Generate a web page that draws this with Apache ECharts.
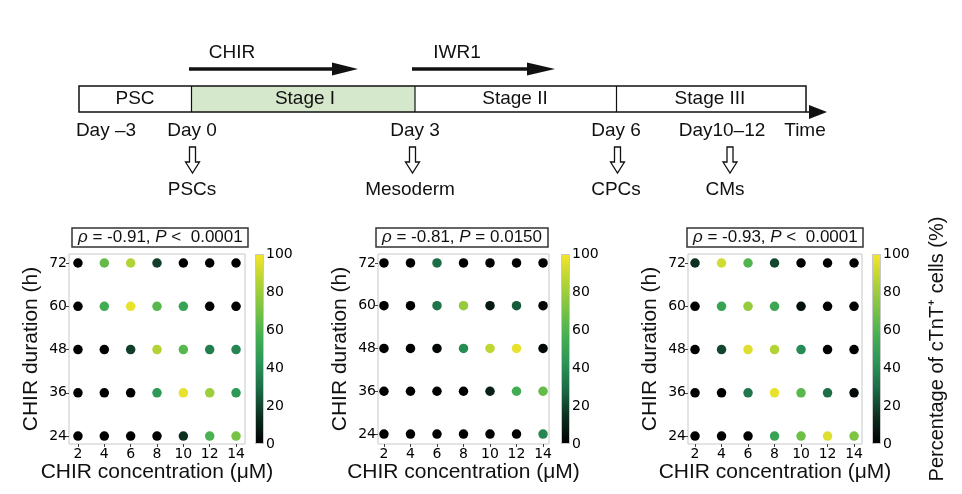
<!DOCTYPE html>
<html><head><meta charset="utf-8">
<script src="https://cdn.jsdelivr.net/npm/echarts@6/dist/echarts.min.js"></script>
<style>html,body{margin:0;padding:0;background:#fff}#c{width:962px;height:494px}</style>
</head><body><div id="c"></div>
<script>
// ---- data ----
const concentrations = [2, 4, 6, 8, 10, 12, 14];      // µM
const durations = [72, 60, 48, 36, 24];               // h (rows, top to bottom)
const pct1 = [
  [0, 65, 85, 18, 0, 0, 0],
  [0, 55, 97, 62, 50, 0, 0],
  [0, 0, 18, 85, 62, 35, 38],
  [0, 0, 0, 45, 97, 80, 45],
  [0, 0, 0, 0, 15, 58, 70]
];
const pct2 = [
  [0, 0, 30, 0, 0, 0, 0],
  [0, 0, 32, 78, 8, 25, 2],
  [0, 0, 2, 40, 88, 97, 3],
  [0, 0, 0, 0, 10, 55, 65],
  [0, 0, 0, 0, 0, 0, 38]
];
const pct3 = [
  [15, 92, 60, 20, 0, 0, 0],
  [0, 50, 78, 52, 5, 0, 0],
  [0, 20, 95, 85, 40, 0, 0],
  [0, 0, 33, 97, 62, 30, 3],
  [0, 0, 0, 50, 68, 95, 72]
];
const rhoTexts = ['-0.91', '-0.81', '-0.93'];
const pTexts = ['<\u00a0 0.0001', '= 0.0150', '<\u00a0 0.0001'];
const colorbarTicks = [0, 20, 40, 60, 80, 100];
const xTickLabels = concentrations;
const yTickLabels = [24, 36, 48, 60, 72];

// ---- styling / layout ----
const cmap = ['#000000', '#0c2e1e', '#1b6a45', '#2a9558', '#46b052', '#7cc444', '#b5d435', '#f5e52b'];
const panels = [
  {left: 69, width: 176, xMin: 1.32, xMax: 14.68, yMin: 21.8, yMax: 74.5, cbLeft: 255, titleLeft: 72, data: pct1},
  {left: 378, width: 171, xMin: 1.55, xMax: 14.45, yMin: 21.2, yMax: 74.5, cbLeft: 561, titleLeft: 376, data: pct2},
  {left: 688, width: 174, xMin: 1.47, xMax: 14.6, yMin: 21.8, yMax: 74.5, cbLeft: 872, titleLeft: 687, data: pct3}
];
const TOP = 254, H = 190;
const LBL = 'Liberation Sans', TICK = 'DejaVu Sans';

const grid = [], xAxis = [], yAxis = [], series = [], visualMap = [], title = [];
panels.forEach((p, i) => {
  grid.push({left: p.left, top: TOP, width: p.width, height: H, show: true, borderColor: '#c8c8c8', borderWidth: 1, backgroundColor: 'transparent'});
  xAxis.push({
    type: 'value', gridIndex: i, min: p.xMin, max: p.xMax,
    axisLine: {show: false}, splitLine: {show: false},
    axisTick: {show: true, customValues: xTickLabels, length: 3, lineStyle: {color: '#444'}},
    axisLabel: {customValues: xTickLabels, fontSize: 14, fontFamily: TICK, color: '#000', margin: 3},
    name: 'CHIR concentration (\u03bcM)', nameLocation: 'middle', nameGap: 15,
    nameTextStyle: {fontSize: 21, fontFamily: LBL, color: '#111'}
  });
  yAxis.push({
    type: 'value', gridIndex: i, min: p.yMin, max: p.yMax,
    axisLine: {show: false}, splitLine: {show: false},
    axisTick: {show: true, customValues: yTickLabels, length: 3, lineStyle: {color: '#444'}},
    axisLabel: {customValues: yTickLabels, fontSize: 14, fontFamily: TICK, color: '#000', margin: 2},
    name: 'CHIR duration (h)', nameLocation: 'middle', nameGap: 27,
    nameTextStyle: {fontSize: 21, fontFamily: LBL, color: '#111'}
  });
  const pts = [];
  durations.forEach((d, r) => concentrations.forEach((c, k) => pts.push([c, d, p.data[r][k]])));
  series.push({type: 'scatter', xAxisIndex: i, yAxisIndex: i, data: pts, symbolSize: 9.5, silent: true, itemStyle: {opacity: 1}});
  visualMap.push({type: 'continuous', show: false, seriesIndex: i, dimension: 2, min: 0, max: 100, inRange: {color: cmap}});
  title.push({
    text: '{i|\u03c1} = ' + rhoTexts[i] + ', {i|P} ' + pTexts[i],
    left: p.titleLeft, top: 228, padding: [1, 6],
    borderColor: '#333', borderWidth: 1.5,
    textStyle: {fontSize: 17, fontWeight: 'normal', fontFamily: LBL, color: '#111',
      rich: {i: {fontStyle: 'italic', fontSize: 17, fontFamily: LBL, color: '#111'}}}
  });
});
// colorbars
panels.forEach((p, i) => {
  const gi = 3 + i;
  grid.push({left: p.cbLeft, top: TOP, width: 9, height: H});
  xAxis.push({type: 'category', gridIndex: gi, data: [''], show: false});
  yAxis.push({
    type: 'value', gridIndex: gi, min: 0, max: 100, interval: 20, position: 'right',
    axisLine: {show: false}, axisTick: {show: false}, splitLine: {show: false},
    axisLabel: {fontSize: 14, fontFamily: TICK, color: '#000', margin: 2},
    name: i === 2 ? 'Percentage of cTnT\u207a cells (%)' : '', nameLocation: 'middle', nameRotate: 90, nameGap: 46,
    nameTextStyle: {fontSize: 20, fontFamily: LBL, color: '#111'}
  });
  series.push({
    type: 'bar', xAxisIndex: gi, yAxisIndex: gi, data: [colorbarTicks[colorbarTicks.length - 1]], barWidth: '100%', silent: true,
    itemStyle: {
      color: new echarts.graphic.LinearGradient(0, 1, 0, 0, cmap.map((c, k) => ({offset: k / (cmap.length - 1), color: c}))),
      borderColor: '#c8c8c8', borderWidth: 1
    }
  });
});

// ---- schematic (decoration) ----
const g = [];
const txt = (x, y, s, size) => g.push({type: 'text', x: x, y: y, style: {text: s, fontSize: size || 19, fontFamily: LBL, fill: '#111', align: 'center', verticalAlign: 'middle'}});
g.push({type: 'rect', shape: {x: 191.5, y: 86, width: 223.5, height: 26}, style: {fill: '#d5e8cb'}});
g.push({type: 'rect', shape: {x: 79, y: 86, width: 727, height: 26}, style: {fill: 'none', stroke: '#111', lineWidth: 1.5}});
[191.5, 415, 616.5].forEach(x => g.push({type: 'line', shape: {x1: x, y1: 86, x2: x, y2: 112}, style: {stroke: '#111', lineWidth: 1.2}}));
g.push({type: 'line', shape: {x1: 806, y1: 112, x2: 815, y2: 112}, style: {stroke: '#111', lineWidth: 1.5}});
g.push({type: 'polygon', shape: {points: [[809, 105], [827, 112], [809, 119]]}, style: {fill: '#111'}});
txt(135, 99, 'PSC'); txt(305, 99, 'Stage I'); txt(515, 99, 'Stage II'); txt(710, 99, 'Stage III');
txt(232, 53, 'CHIR'); txt(457, 53, 'IWR1');
g.push({type: 'line', shape: {x1: 189, y1: 69, x2: 335, y2: 69}, style: {stroke: '#111', lineWidth: 3.5}});
g.push({type: 'polygon', shape: {points: [[332, 62.5], [358, 69], [332, 75.5]]}, style: {fill: '#111'}});
g.push({type: 'line', shape: {x1: 412, y1: 69, x2: 530, y2: 69}, style: {stroke: '#111', lineWidth: 3.5}});
g.push({type: 'polygon', shape: {points: [[527, 62.5], [555, 69], [527, 75.5]]}, style: {fill: '#111'}});
txt(106, 131, 'Day \u20133'); txt(192, 131, 'Day 0'); txt(415, 131, 'Day 3'); txt(616, 131, 'Day 6'); txt(722, 131, 'Day10\u201312'); txt(805, 131, 'Time');
[192.5, 412.5, 617.5, 730].forEach(cx => g.push({type: 'polygon', shape: {points: [[cx - 3, 147], [cx + 3, 147], [cx + 3, 162], [cx + 7, 162], [cx, 173], [cx - 7, 162], [cx - 3, 162]]}, style: {fill: '#fff', stroke: '#111', lineWidth: 1.3}}));
txt(192, 190, 'PSCs'); txt(410, 190, 'Mesoderm'); txt(616, 190, 'CPCs'); txt(725, 190, 'CMs');

const chart = echarts.init(document.getElementById('c'), null, {renderer: 'canvas'});
chart.setOption({animation: false, backgroundColor: '#fff', title, grid, xAxis, yAxis, series, visualMap, graphic: g});
</script></body></html>
